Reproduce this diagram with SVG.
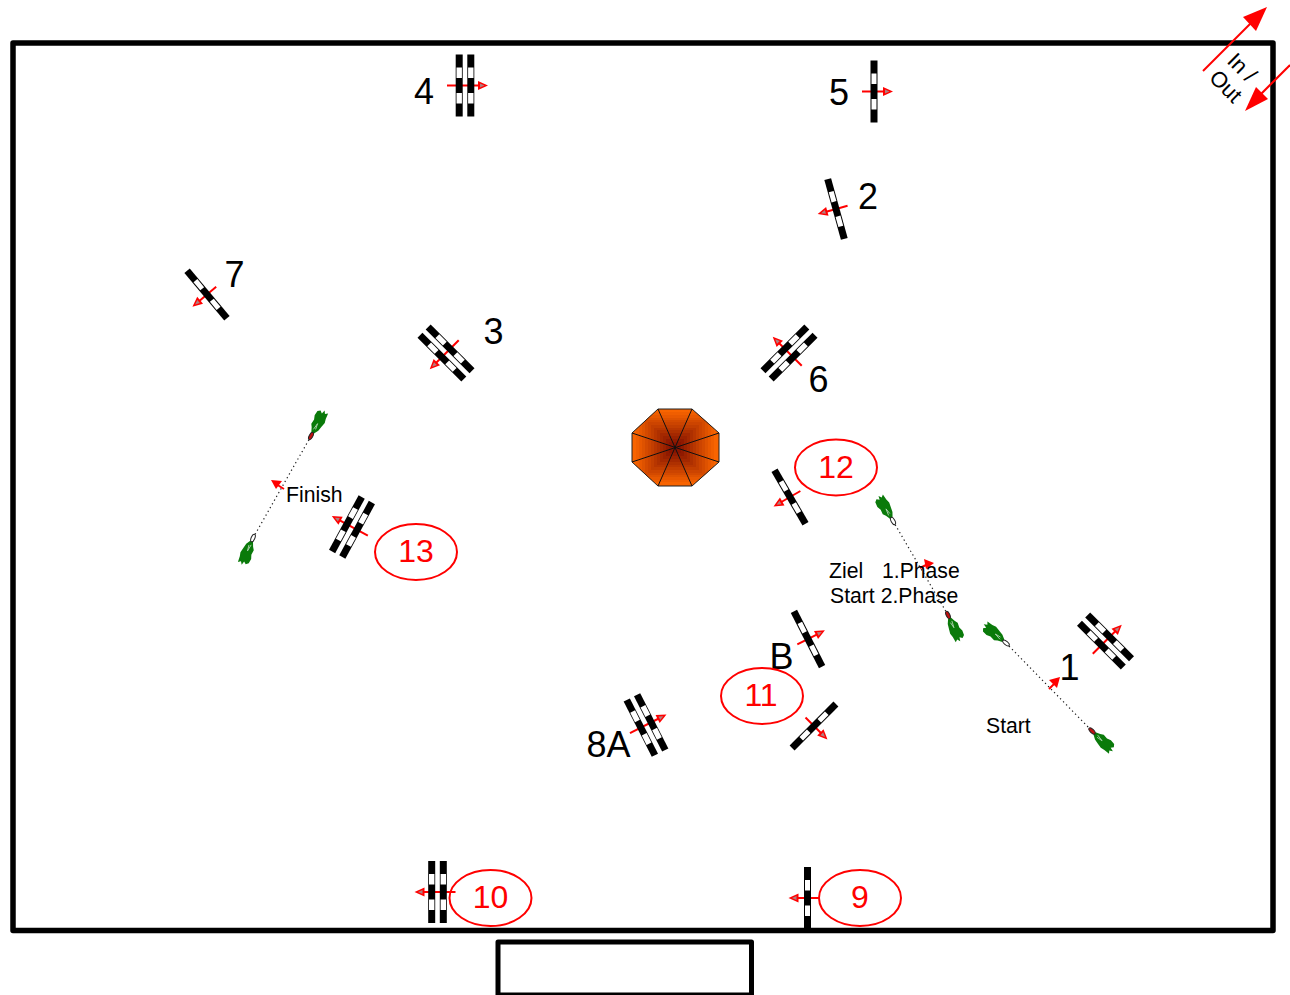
<svg xmlns="http://www.w3.org/2000/svg" width="1290" height="995" viewBox="0 0 1290 995">
<style>
text{font-family:"Liberation Sans",Arial,sans-serif;fill:#000}
.n{font-size:36px}
.s{font-size:21.2px}
.r{font-size:32px;fill:#f00;text-anchor:middle}
.e{fill:none;stroke:#f00;stroke-width:2}
.bar{fill:#000}
.wh{fill:#fff}
.ar{stroke:#f00;stroke-width:2;fill:none}
.hd{fill:#f00}
.gh{fill:#b08080}
.dot{stroke:#222;stroke-width:1.2;stroke-dasharray:1.3 3;fill:none}
.blob{fill:#0a7a0a}
</style>
<defs>
<g id="single">
<path class="ar" d="M-12 0H12"/>
<path class="hd" d="M19 0L9 -4.500V4.500Z"/>
<path class="gh" d="M15.500 0L11 -2V2Z"/>
<rect class="bar" x="-3.500" y="-31" width="7" height="62"/>
<rect class="wh" x="-2.500" y="-18" width="5" height="10.500"/>
<rect class="wh" x="-2.500" y="7.500" width="5" height="10.500"/>
</g>
<g id="double">
<path class="ar" d="M-18 0H16"/>
<path class="hd" d="M23 0L13 -4.500V4.500Z"/>
<path class="gh" d="M19.500 0L15 -2V2Z"/>
<rect class="bar" x="-9.300" y="-31" width="7" height="62"/>
<rect class="wh" x="-8.500" y="-18" width="5.400" height="10.500"/>
<rect class="wh" x="-8.500" y="7.500" width="5.400" height="10.500"/>
<rect class="bar" x="2.300" y="-31" width="7" height="62"/>
<rect class="wh" x="3.100" y="-18" width="5.400" height="10.500"/>
<rect class="wh" x="3.100" y="7.500" width="5.400" height="10.500"/>
</g>
<g id="blob">
<path class="blob" d="M3.500 -1.500L8 -3.500L11 -5.500L16 -5L20 -6.500L25 -6L27 -3.500L25 -1L29 0L26 2L28 4.500L22 5L18 6L13 5L8 4L3.500 1.500Z"/>
<path d="M7 -1L14 0L8 1" fill="none" stroke="#b8d8b8" stroke-width="0.8"/>
</g>
<g id="boatW"><use href="#blob"/><ellipse rx="4" ry="1.800" fill="#fff" stroke="#222" stroke-width="1"/></g>
<g id="boatR"><use href="#blob"/><ellipse rx="4" ry="1.800" fill="#c01010" stroke="#222" stroke-width="1"/></g>
<clipPath id="oc"><path d="M658 409H692L719 433V462L692 486H658L632 462V433Z"/></clipPath>
</defs>
<rect width="1290" height="995" fill="#fff"/>

<g id="arena">
<rect x="13" y="43" width="1260" height="887.500" fill="none" stroke="#000" stroke-width="5.500" stroke-linejoin="round"/>
<rect id="box" x="498" y="942" width="253.500" height="53" fill="none" stroke="#000" stroke-width="5" stroke-linejoin="round"/>
</g>

<g id="inout">
<path d="M1203 71L1252 22" stroke="#f00" stroke-width="2" fill="none"/>
<path class="hd" d="M1267 7L1243 17L1256 31Z"/>
<path d="M1290 65L1259 96" stroke="#f00" stroke-width="2" fill="none"/>
<path class="hd" d="M1245 111L1256 87L1268 99Z"/>
<text transform="translate(1226 62) rotate(45)" font-size="22">In /</text>
<text transform="translate(1208 79) rotate(45)" font-size="22">Out</text>
</g>

<g id="centre">
<g clip-path="url(#oc)">
<rect x="625" y="400" width="100" height="95" fill="#f86400"/>
<rect x="636" y="412" width="78" height="70" fill="#f05e00"/>
<rect x="639" y="415" width="72" height="65" fill="#e85800"/>
<rect x="642" y="418" width="66" height="59" fill="#de5200"/>
<rect x="645" y="420" width="60" height="55" fill="#d44a00"/>
<rect x="648" y="422" width="54" height="51" fill="#cc4400"/>
<rect x="651" y="425" width="48" height="45" fill="#c23e00"/>
<rect x="654" y="428" width="42" height="39" fill="#b83600"/>
<rect x="657" y="430" width="36" height="35" fill="#ae3000"/>
<rect x="660" y="433" width="30" height="29" fill="#a42800"/>
<rect x="663" y="436" width="24" height="23" fill="#9a2200"/>
<rect x="666" y="439" width="18" height="17" fill="#901a00"/>
<rect x="669" y="442" width="12" height="11" fill="#881400"/>
</g>
<path d="M658 409H692L719 433V462L692 486H658L632 462V433Z" fill="none" stroke="#222" stroke-width="1"/>
<path d="M658 409L692 486M692 409L658 486M632 433L719 462M719 433L632 462" fill="none" stroke="#111" stroke-width="1"/>
</g>

<g id="connectors">
<path class="dot" d="M311 436L253 538"/>
<path class="dot" d="M893 521L948 615"/>
<path class="dot" d="M1006 643L1092 731"/>
<path class="ar" d="M284 489L276 484"/>
<path class="hd" d="M271 480L282 481L276 489Z"/>
<path class="ar" d="M920 568L928 564"/>
<path class="hd" d="M934 563L924 559L926 569Z"/>
<path class="ar" d="M1049 689L1056 682"/>
<path class="hd" d="M1060 677L1049 680L1057 688Z"/>
</g>

<g id="fence-4"><use href="#double" transform="translate(465 85.500)"/><text class="n" x="414" y="104">4</text></g>
<g id="fence-5"><use href="#single" transform="translate(874 91.500)"/><text class="n" x="829" y="105">5</text></g>
<g id="fence-2"><use href="#single" transform="translate(836 209) rotate(164.500)"/><text class="n" x="858" y="209">2</text></g>
<g id="fence-7"><use href="#single" transform="translate(207 294.500) rotate(140)"/><text class="n" x="224.500" y="287">7</text></g>
<g id="fence-3"><use href="#double" transform="translate(446 353) rotate(135)"/><text class="n" x="483.500" y="344">3</text></g>
<g id="fence-6"><use href="#double" transform="translate(789 353) rotate(225)"/><text class="n" x="808.500" y="392">6</text></g>
<g id="fence-12"><use href="#single" transform="translate(790 497) rotate(150)"/><ellipse class="e" cx="836" cy="467.500" rx="41" ry="28"/><text class="r" x="836" y="478">12</text></g>
<g id="fence-13"><use href="#double" transform="translate(352 527) rotate(208.500)"/><ellipse class="e" cx="416" cy="552" rx="41" ry="28"/><text class="r" x="416" y="562">13</text></g>
<g id="fence-B"><use href="#single" transform="translate(808 639) rotate(-27)"/><text class="n" x="769.500" y="669">B</text></g>
<g id="fence-11"><use href="#single" transform="translate(814 726) rotate(45)"/><ellipse class="e" cx="762" cy="696" rx="41" ry="28"/><text class="r" x="761" y="706">11</text></g>
<g id="fence-8A"><use href="#double" transform="translate(646 725) rotate(-27)"/><text class="n" x="586.500" y="757">8A</text></g>
<g id="fence-1"><use href="#double" transform="translate(1105.500 641) rotate(-45)"/><text class="n" x="1059.500" y="680">1</text></g>
<g id="fence-10"><use href="#double" transform="translate(437.500 892) rotate(180)"/><ellipse class="e" cx="490.500" cy="898" rx="41" ry="28"/><text class="r" x="490.500" y="908">10</text></g>
<g id="fence-9"><use href="#single" transform="translate(807.500 898) rotate(180)"/><ellipse class="e" cx="860" cy="898" rx="41" ry="28"/><text class="r" x="860" y="908">9</text></g>

<g id="finish">
<use href="#boatR" transform="translate(311 436) rotate(-62)"/>
<use href="#boatW" transform="translate(253 538) rotate(113)"/>
<text class="s" x="286" y="502">Finish</text>
</g>
<g id="phase">
<use href="#boatW" transform="translate(893 521) rotate(240)"/>
<use href="#boatR" transform="translate(948 615) rotate(65)"/>
<text class="s" x="829" y="578">Ziel</text>
<text class="s" x="882" y="578">1.Phase</text>
<text class="s" x="830" y="603">Start 2.Phase</text>
</g>
<g id="start">
<use href="#boatW" transform="translate(1006 643) rotate(220)"/>
<use href="#boatR" transform="translate(1092 731) rotate(44)"/>
<text class="s" x="986" y="733">Start</text>
</g>
</svg>
